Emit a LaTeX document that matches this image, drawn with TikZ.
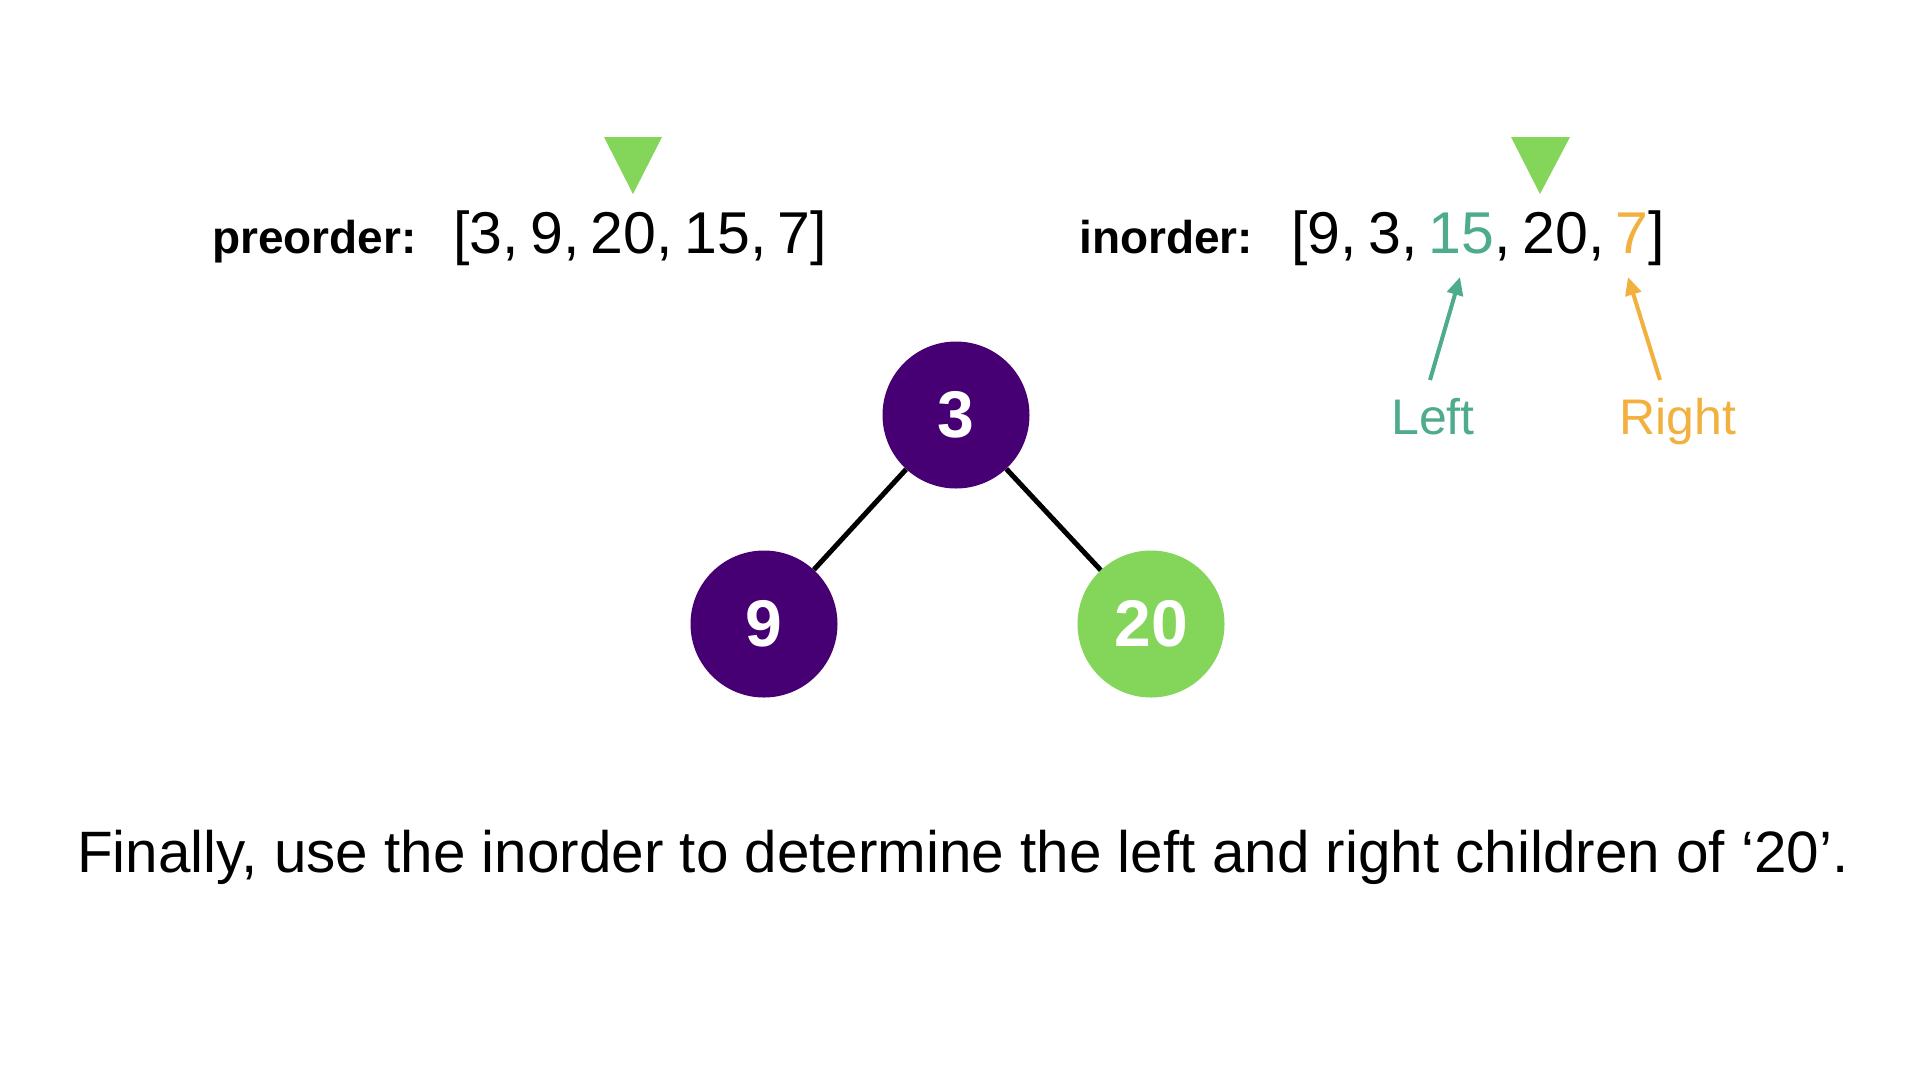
\documentclass[tikz,border=0pt]{standalone}
\usepackage{fontspec}
\setmainfont{Liberation Sans}
\newfontfamily\arrfont[WordSpace=0.7]{Liberation Sans}
\usetikzlibrary{arrows.meta}
\definecolor{tgreen}{HTML}{83D65A}
\definecolor{tpurple}{HTML}{470073}
\definecolor{tteal}{HTML}{4FAB8D}
\definecolor{torange}{HTML}{F2B13F}
\tikzset{
  treenode/.style={circle, minimum size=147pt, inner sep=0pt, text=white, font=\fontsize{66}{72}\selectfont\bfseries},
  label big/.style={inner sep=0pt, font=\arrfont\fontsize{59}{66}\selectfont},
  label bold/.style={inner sep=0pt, font=\fontsize{46}{52}\selectfont\bfseries},
  label side/.style={inner sep=0pt, anchor=base, font=\fontsize{50}{56}\selectfont},
  marker/.style={fill=tgreen, draw=none},
  pointer/.style={line width=4pt, -{Triangle[length=18pt,width=16pt]}},
  edge/.style={line width=5pt, black},
}
\begin{document}
\begin{tikzpicture}[x=1pt,y=-1pt]
\useasboundingbox (0,0) rectangle (1920,1080);
\fill[white] (0,0) rectangle (1920,1080);
% arrays
\node[label bold, anchor=base west] (prelab) at (212,253) {preorder:};
\node[label big, anchor=base west] (prearr) at (453,253) {[3, 9, 20, 15, 7]};
\node[label bold, anchor=base west] (inlab) at (1079,253) {inorder:};
\node[label big, anchor=base west] (inarr) at (1291,253) {[9, 3, \textcolor{tteal}{15}, 20, \textcolor{torange}{7}]};
% markers
\fill[marker] (604,137) -- (662,137) -- (633,194) -- cycle;
\fill[marker] (1511,137) -- (1570,137) -- (1540,194) -- cycle;
% tree
\node[treenode, fill=tpurple] (n3) at (956,415) {3};
\node[treenode, fill=tpurple] (n9) at (764,624) {9};
\node[treenode, fill=tgreen] (n20) at (1151,624) {20};
\draw[edge] (n3) -- (n9);
\draw[edge] (n3) -- (n20);
% left / right labels
\node[label side, text=tteal] (left) at (1433,434) {Left};
\node[label side, text=torange] (right) at (1678,434) {Right};
\coordinate (ltip) at (1460,277);
\coordinate (rtip) at (1628,277);
\coordinate (lfoot) at (1430,380);
\coordinate (rfoot) at (1660,380);
\draw[pointer, tteal] (lfoot) -- (ltip);
\draw[pointer, torange] (rfoot) -- (rtip);
% caption
\node[inner sep=0pt, anchor=base west, font=\fontsize{58.4}{64}\selectfont] (caption) at (77,872) {Finally, use the inorder to determine the left and right children of ‘20’.};
\end{tikzpicture}
\end{document}
